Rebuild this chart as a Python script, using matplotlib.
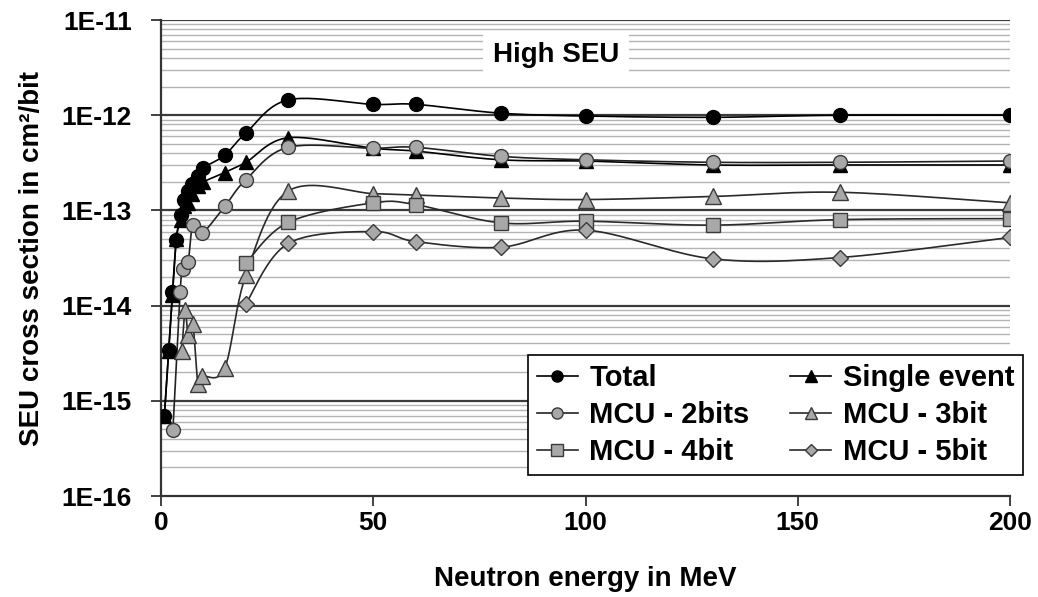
import numpy as np
import matplotlib.pyplot as plt
from matplotlib.lines import Line2D

plt.rcParams['font.family'] = ['Liberation Sans', 'DejaVu Sans']
plt.rcParams['font.weight'] = 'bold'

# Neutron energy (MeV) and cross sections (cm2/bit)
e_total = [0.8, 1.8, 2.7, 3.6, 4.6, 5.5, 6.4, 7.4, 8.6, 10, 15, 20, 30, 50, 60, 80, 100, 130, 160, 200]
total = [7e-16, 3.4e-15, 1.4e-14, 4.9e-14, 9e-14, 1.3e-13, 1.6e-13, 1.9e-13, 2.3e-13, 2.8e-13,
         3.8e-13, 6.5e-13, 1.45e-12, 1.3e-12, 1.3e-12, 1.05e-12, 9.8e-13, 9.5e-13, 1.0e-12, 1.0e-12]

e_single = e_total
single = [7e-16, 3.3e-15, 1.3e-14, 5e-14, 8e-14, 1.1e-13, 1.2e-13, 1.5e-13, 1.8e-13, 2.0e-13,
          2.5e-13, 3.2e-13, 5.8e-13, 4.5e-13, 4.2e-13, 3.4e-13, 3.3e-13, 3.0e-13, 3.0e-13, 3.0e-13]

e_mcu2 = [2.8, 4.5, 5.2, 6.4, 7.5, 9.7, 15, 20, 30, 50, 60, 80, 100, 130, 160, 200]
mcu2 = [4.9e-16, 1.4e-14, 2.4e-14, 2.9e-14, 7.0e-14, 5.8e-14, 1.1e-13, 2.1e-13, 4.6e-13,
        4.5e-13, 4.6e-13, 3.7e-13, 3.4e-13, 3.2e-13, 3.2e-13, 3.3e-13]

e_mcu3 = [4.9, 5.7, 6.4, 7.5, 8.7, 9.7, 15, 20, 30, 50, 60, 80, 100, 130, 160, 200]
mcu3 = [3.3e-15, 8.9e-15, 4.9e-15, 6.4e-15, 1.5e-15, 1.8e-15, 2.2e-15, 2.1e-14, 1.6e-13,
        1.5e-13, 1.45e-13, 1.35e-13, 1.3e-13, 1.4e-13, 1.55e-13, 1.2e-13]

e_mcu4 = [20, 30, 50, 60, 80, 100, 130, 160, 200]
mcu4 = [2.8e-14, 7.5e-14, 1.2e-13, 1.15e-13, 7.4e-14, 7.7e-14, 7.0e-14, 8.0e-14, 8.2e-14]

e_mcu5 = [20, 30, 50, 60, 80, 100, 130, 160, 200]
mcu5 = [1.05e-14, 4.5e-14, 6.0e-14, 4.7e-14, 4.1e-14, 6.2e-14, 3.1e-14, 3.2e-14, 5.2e-14]

labels = ['Total', 'Single event', 'MCU - 2bits', 'MCU - 3bit', 'MCU - 4bit', 'MCU - 5bit']

XMAX, YMIN, YMAX = 200, 1e-16, 1e-11
W, H = 849.0, 476.0  # plot area in pixels, used for the smoothing


def smooth(x, y, n=24):
    # Catmull-Rom through the points, in screen-like coordinates (like Excel's smoothed line)
    u = np.asarray(x, float) / XMAX * W
    v = (np.log10(y) - np.log10(YMIN)) / 5 * H
    p = np.column_stack([u, v])
    p = np.vstack([p[0], p, p[-1]])
    out = []
    t = np.linspace(0, 1, n)[:, None]
    for i in range(1, len(p) - 2):
        p0, p1, p2, p3 = p[i - 1], p[i], p[i + 1], p[i + 2]
        c1 = p1 + (p2 - p0) / 6
        c2 = p2 - (p3 - p1) / 6
        seg = ((1 - t) ** 3) * p1 + 3 * ((1 - t) ** 2) * t * c1 + 3 * (1 - t) * t ** 2 * c2 + t ** 3 * p2
        out.append(seg)
    s = np.vstack(out)
    return s[:, 0] / W * XMAX, 10 ** (s[:, 1] / H * 5 + np.log10(YMIN))


fig = plt.figure(figsize=(10.38, 5.97), dpi=100)
ax = fig.add_axes([161 / 1038, 1 - 496 / 597, 849 / 1038, 476 / 597])
ax.set_yscale('log')
ax.set_xlim(0, XMAX)
ax.set_ylim(YMIN, YMAX)

# gridlines
for d in range(-16, -11):
    for m in range(2, 10):
        ax.axhline(m * 10.0 ** d, color='#b4b4b4', lw=1.0, zorder=0)
for d in range(-15, -10):
    ax.axhline(10.0 ** d, color='#3c3c3c', lw=1.6, zorder=0.5)

gray = '#a8a8a8'
edge = '#3a3a3a'
series = [
    (e_total, total, 'o', 'black', 'black', 10, 'black'),
    (e_single, single, '^', 'black', 'black', 10, 'black'),
    (e_mcu2, mcu2, 'o', gray, edge, 10, '#222222'),
    (e_mcu3, mcu3, '^', gray, edge, 11, '#2a2a2a'),
    (e_mcu4, mcu4, 's', gray, edge, 10, '#2a2a2a'),
    (e_mcu5, mcu5, 'D', gray, edge, 8, '#2a2a2a'),
]
handles = []
for (x, y, mk, fc, ec, ms, lc), lab in zip(series, labels):
    sx, sy = smooth(x, y)
    ax.plot(sx, sy, color=lc, lw=1.2, zorder=2)
    ax.plot(x, y, linestyle='none', marker=mk, mfc=fc, mec=ec, ms=ms, mew=1.0, zorder=3)
    handles.append(Line2D([], [], color=lc, lw=1.2, marker=mk, mfc=fc, mec=ec, ms=ms * 0.8, mew=1.0))

for s in ['top', 'right']:
    ax.spines[s].set_visible(False)
ax.spines['left'].set_color('#333333')
ax.spines['left'].set_linewidth(1.6)
ax.spines['bottom'].set_color('#333333')
ax.spines['bottom'].set_linewidth(1.6)

ax.set_xticks([0, 50, 100, 150, 200])
ax.set_yticks([10.0 ** d for d in range(-16, -10)])
ax.set_yticklabels(['1E-%d' % d for d in range(16, 10, -1)])
ax.yaxis.set_minor_locator(plt.NullLocator())
ax.tick_params(axis='both', labelsize=19, length=7, width=1.3, color='#333333')
ax.tick_params(axis='x', pad=4)
ax.tick_params(axis='y', pad=14)

ax.set_xlabel('Neutron energy in MeV', fontsize=20, fontweight='bold', labelpad=22)
ax.set_ylabel('SEU cross section in cm²/bit', fontsize=20, fontweight='bold', labelpad=12)

ax.text(93, 10 ** -11.37, 'High SEU', ha='center', va='center', fontsize=20, fontweight='bold',
        bbox=dict(facecolor='white', edgecolor='none', pad=7), zorder=4)

# row-wise legend order (matplotlib fills columns first)
order = [0, 2, 4, 1, 3, 5]
leg = fig.legend([handles[i] for i in order], [labels[i] for i in order], ncol=2, loc='upper left',
                 bbox_to_anchor=(528 / 1038, 1 - 355 / 597), fontsize=21,
                 frameon=True, fancybox=False, edgecolor='black', framealpha=1,
                 handlelength=1.4, handletextpad=0.4, columnspacing=1.4,
                 labelspacing=0.32, borderpad=0.3, borderaxespad=0)
leg.get_frame().set_linewidth(1.2)
for t in leg.get_texts():
    t.set_fontweight('bold')

fig.savefig('out.png', dpi=100, facecolor='white')
